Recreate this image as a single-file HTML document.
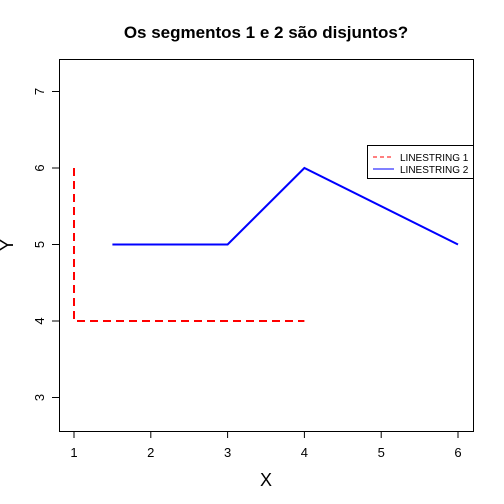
<!DOCTYPE html>
<html><head><meta charset="utf-8"><style>body{margin:0;background:#fff}svg{display:block;font-family:"Liberation Sans",sans-serif}</style></head>
<body>
<svg width="504" height="504" id="c">
<rect width="504" height="504" fill="#fff"/>
<text x="266" y="38" text-anchor="middle" font-size="17" font-weight="bold">Os segmentos 1 e 2 são disjuntos?</text>
<rect x="59.5" y="59.5" width="414" height="372" fill="none" stroke="#000"/>
<text x="266" y="486" text-anchor="middle" font-size="18">X</text>
<text x="0" y="0" transform="translate(13,245) rotate(-90)" text-anchor="middle" font-size="18">Y</text>
<g id="axes"></g>
<g id="series"></g>
<g>
<rect x="367.5" y="145.5" width="106" height="33" fill="#fff" stroke="#000"/>
<line x1="373" y1="157" x2="394" y2="157" stroke="red" stroke-dasharray="4,3"/>
<text x="400" y="161" font-size="10">LINESTRING 1</text>
<line x1="373" y1="169" x2="394" y2="169" stroke="blue"/>
<text x="400" y="173" font-size="10">LINESTRING 2</text>
</g>
</svg>
<script>
const xTicks=[1,2,3,4,5,6];
const yTicks=[3,4,5,6,7];
const line1X=[1,1,4];
const line1Y=[6,4,4];
const line2X=[1.5,3,4,6];
const line2Y=[5,5,6,5];
const sx=v=>74+(v-1)*76.8;
const sy=v=>321-(v-4)*76.5;
const NS="http://www.w3.org/2000/svg";
const ax=document.getElementById('axes');
function mk(t,a,p){const e=document.createElementNS(NS,t);for(const k in a)e.setAttribute(k,a[k]);p.appendChild(e);return e;}
let l=mk('line',{x1:sx(1),x2:sx(6),y1:431.5,y2:431.5,stroke:'#000'},ax);


xTicks.forEach(v=>{mk('line',{x1:sx(v),x2:sx(v),y1:431,y2:438,stroke:'#000'},ax);
 const t=mk('text',{x:sx(v),y:457,'text-anchor':'middle','font-size':13},ax);t.textContent=v;
 
 });
l=mk('line',{x1:59.5,x2:59.5,y1:sy(3),y2:sy(7),stroke:'#000'},ax);


yTicks.forEach(v=>{mk('line',{x1:52,x2:59,y1:sy(v),y2:sy(v),stroke:'#000'},ax);
 const t=mk('text',{x:0,y:0,transform:`translate(44,${sy(v)}) rotate(-90)`,'text-anchor':'middle','font-size':13},ax);t.textContent=v;
 
 });
const s=document.getElementById('series');
let p=mk('polyline',{points:line1X.map((x,i)=>sx(x)+','+sy(line1Y[i])).join(' '),fill:'none',stroke:'red','stroke-width':2,'stroke-dasharray':'8,5'},s);


p=mk('polyline',{points:line2X.map((x,i)=>sx(x)+','+sy(line2Y[i])).join(' '),fill:'none',stroke:'blue','stroke-width':2},s);


</script>
</body></html>
